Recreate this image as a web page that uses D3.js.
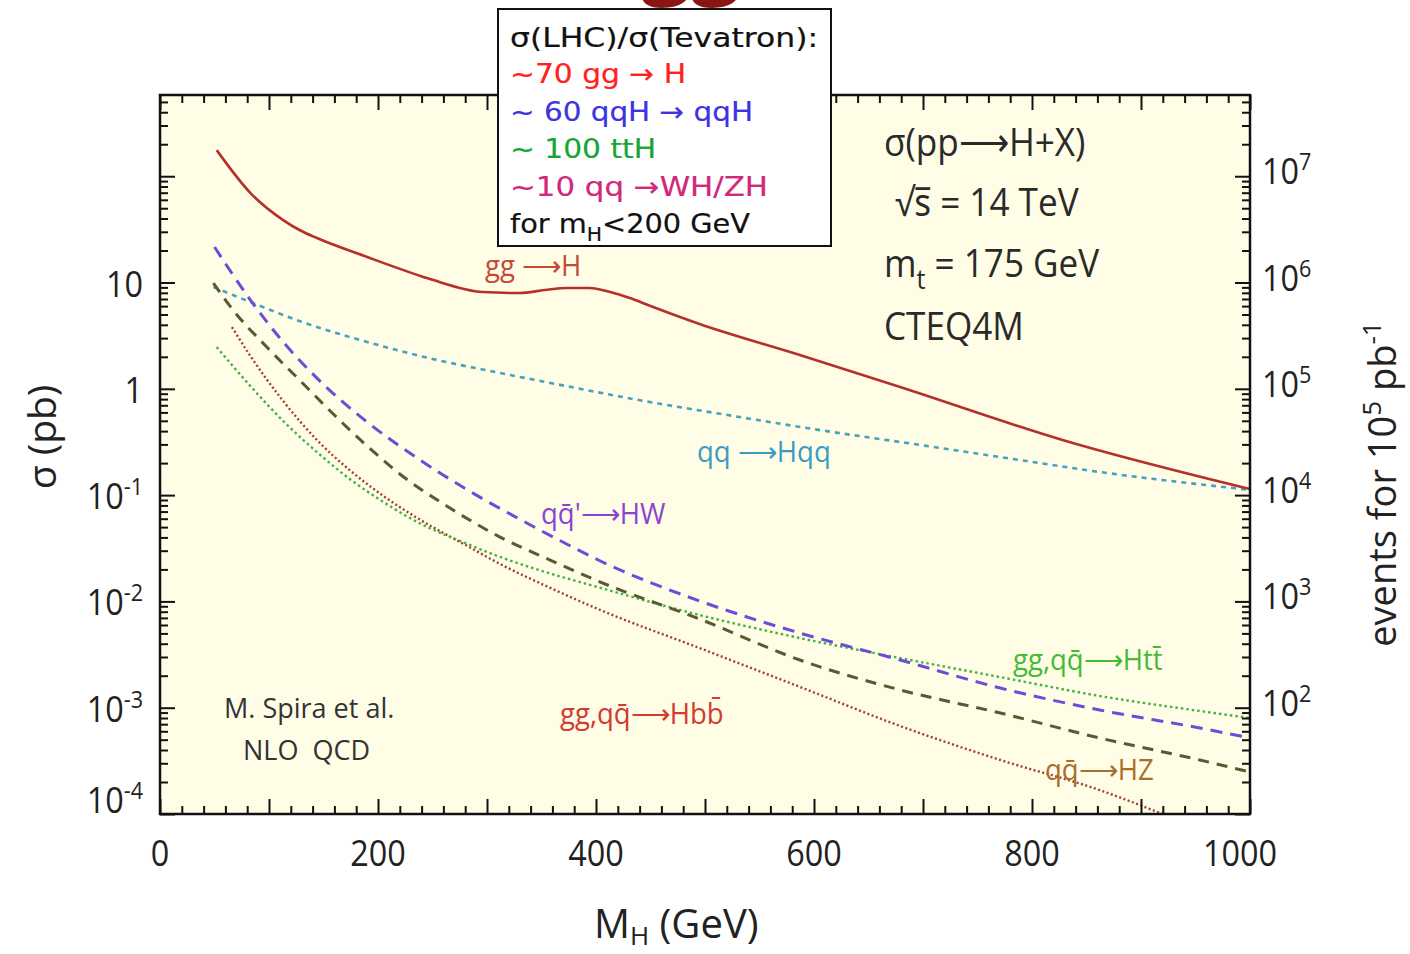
<!DOCTYPE html>
<html>
<head>
<meta charset="utf-8">
<script src="https://cdn.jsdelivr.net/npm/d3@7"></script>
<style>
  body { margin: 0; background: #ffffff; }
  svg { display: block; }
  .tick line { stroke: #111; stroke-width: 2; }
</style>
</head>
<body>
<svg id="chart" width="1410" height="954"></svg>
<script>
// Higgs boson production cross sections, pp -> H + X at sqrt(s) = 14 TeV (NLO QCD)
// Each series: [M_H in GeV, sigma in pb]
const ggH = [[52,176],[83,69.5],[113,38.7],[128,31.2],[144,26.2],[190,17.4],[236,11.8],[250,10.6],
  [296,8.14],[330,7.96],[353,8.5],[373,8.88],[394,8.88],[413,8.14],[431,7.15],[450,6.01],[495,4.07],
  [587,2.08],[679,1.04],[828,0.330],[1000,0.114]];
const qqHqq = [[49,9.07],[83,6.55],[128,4.34],[190,2.76],[250,1.91],[312,1.41],[373,1.06],[434,0.802],
  [526,0.555],[617,0.392],[679,0.316],[771,0.228],[862,0.165],[1000,0.112]];
const qqHW = [[50,21.6],[83,6.84],[113,2.76],[144,1.26],[190,0.487],[236,0.223],[282,0.112],[328,0.0609],
  [373,0.0347],[404,0.0240],[495,0.0101],[587,0.00504],[679,0.00281],[771,0.00153],[862,0.000952],
  [954,0.000644],[1000,0.000519]];
const qqHZ = [[49,9.89],[67,5.51],[98,2.47],[128,1.21],[159,0.579],[190,0.290],[220,0.158],[266,0.0756],
  [312,0.0403],[358,0.0245],[404,0.0152],[495,0.00683],[587,0.00281],[679,0.00147],[771,0.000891],
  [862,0.000519],[954,0.000322],[1000,0.000248]];
const ggHtt = [[52,2.47],[83,1.06],[113,0.498],[144,0.254],[174,0.142],[205,0.0861],[236,0.0558],
  [282,0.0347],[312,0.0262],[342,0.0206],[404,0.0134],[495,0.00745],[587,0.00452],[679,0.00293],
  [771,0.00194],[862,0.00129],[954,0.000931],[1000,0.000800]];
const ggHbb = [[66,3.81],[83,2.03],[113,0.768],[144,0.330],[174,0.172],[205,0.0981],[236,0.0609],
  [282,0.0332],[312,0.0225],[358,0.0134],[404,0.00830],[495,0.00364],[587,0.00157],[679,0.000673],
  [771,0.000322],[862,0.000168],[925,0.000095]];

// Axis ticks
const massMajor = d3.range(0, 1001, 100);
const massMinor = d3.range(0, 1001, 20).filter(v => v % 100 !== 0);
const massLabels = [0, 200, 400, 600, 800, 1000];
const sigmaDecades = [1e-4, 1e-3, 1e-2, 1e-1, 1, 10, 100];
const sigmaLabels = [[1e-4, "10", "-4"], [1e-3, "10", "-3"], [1e-2, "10", "-2"], [1e-1, "10", "-1"], [1, "1", ""], [10, "10", ""]];
const eventLabels = [[1e2, "2"], [1e3, "3"], [1e4, "4"], [1e5, "5"], [1e6, "6"], [1e7, "7"]];
const lumiFactor = 1e5; // events per pb for the right-hand axis

const svg = d3.select("#chart");
const plot = { left: 160, right: 1250, top: 95, bottom: 814 };
const sigmaTop = 581;

const x = d3.scaleLinear().domain([0, 1000]).range([plot.left, plot.right]);
const y = d3.scaleLog().domain([1e-4, sigmaTop]).range([plot.bottom, plot.top]);
const yEvents = d3.scaleLog().domain([1e-4 * lumiFactor, sigmaTop * lumiFactor]).range([plot.bottom, plot.top]);

const minorLog = [];
sigmaDecades.forEach(d => { for (let k = 2; k <= 9; k++) { const v = d * k; if (v < sigmaTop) minorLog.push(v); } });
const minorEvents = minorLog.map(v => v * lumiFactor);
const eventDecades = sigmaDecades.map(v => v * lumiFactor);

const sansFont = "'Open Sans', 'Noto Sans', sans-serif";
const squeeze = 0.9; // narrower letterforms for the figure's own lettering

// Page title (runs off the top edge)
svg.append("text").attr("x", 547).attr("y", -13)
  .attr("font-family", sansFont).attr("font-weight", 700).attr("font-size", 88)
  .attr("fill", "#8b1414").text("Higgs");

// Plot background
svg.append("rect").attr("x", plot.left).attr("y", plot.top)
  .attr("width", plot.right - plot.left).attr("height", plot.bottom - plot.top)
  .attr("fill", "#fffde6");

// Curves
svg.append("clipPath").attr("id", "plotClip").append("rect")
  .attr("x", plot.left).attr("y", plot.top)
  .attr("width", plot.right - plot.left).attr("height", plot.bottom - plot.top);

const line = d3.line().x(d => x(d[0])).y(d => y(d[1])).curve(d3.curveMonotoneX);
const curves = [
  { data: qqHqq, color: "#46a2c2", width: 2.6, dash: "5,5" },
  { data: ggHbb, color: "#a23c36", width: 2.4, dash: "2,2.5" },
  { data: ggHtt, color: "#3fb443", width: 2.4, dash: "2.5,3" },
  { data: qqHZ, color: "#5a5930", width: 3, dash: "11,8" },
  { data: qqHW, color: "#6b4ed8", width: 3, dash: "12,8" },
  { data: ggH, color: "#b5302a", width: 2.6, dash: null }
];
const gCurves = svg.append("g").attr("clip-path", "url(#plotClip)");
curves.forEach(c => {
  gCurves.append("path").datum(c.data)
    .attr("d", line).attr("fill", "none")
    .attr("stroke", c.color).attr("stroke-width", c.width)
    .attr("stroke-dasharray", c.dash);
});

// Axes: ticks point into the frame on all four sides
function ticks(axis, tx, ty) {
  const g = svg.append("g").attr("transform", `translate(${tx},${ty})`).call(axis);
  g.select(".domain").remove();
  g.selectAll("text").remove();
  return g;
}
ticks(d3.axisBottom(x).tickValues(massMajor).tickSize(-15), 0, plot.bottom);
ticks(d3.axisBottom(x).tickValues(massMinor).tickSize(-8), 0, plot.bottom);
ticks(d3.axisTop(x).tickValues(massMajor).tickSize(-15), 0, plot.top);
ticks(d3.axisTop(x).tickValues(massMinor).tickSize(-8), 0, plot.top);
ticks(d3.axisLeft(y).tickValues(sigmaDecades).tickSize(-15), plot.left, 0);
ticks(d3.axisLeft(y).tickValues(minorLog).tickSize(-8), plot.left, 0);
ticks(d3.axisRight(yEvents).tickValues(eventDecades).tickSize(-15), plot.right, 0);
ticks(d3.axisRight(yEvents).tickValues(minorEvents).tickSize(-8), plot.right, 0);

// Frame
svg.append("rect").attr("x", plot.left).attr("y", plot.top)
  .attr("width", plot.right - plot.left).attr("height", plot.bottom - plot.top)
  .attr("fill", "none").attr("stroke", "#111").attr("stroke-width", 2.5);

// Tick labels (the wide end label sits just inside the frame corner)
svg.append("g").selectAll("text").data(massLabels).join("text")
  .attr("transform", d => `translate(${x(d) - (d === 1000 ? 10 : 0)},866) scale(${squeeze},1)`)
  .attr("text-anchor", "middle")
  .attr("font-family", sansFont).attr("font-size", 36).attr("fill", "#222")
  .text(d => d);

const gLeft = svg.append("g").attr("font-family", sansFont).attr("fill", "#222");
sigmaLabels.forEach(([v, base, exp]) => {
  const yy = v === 1e-4 ? y(v) - 1 : y(v) + 14;
  const t = gLeft.append("text")
    .attr("transform", `translate(143,${yy}) scale(${squeeze},1)`)
    .attr("text-anchor", "end").attr("font-size", 36);
  t.append("tspan").text(base);
  if (exp) t.append("tspan").attr("font-size", 24).attr("dy", -14).text(exp);
});

const gRight = svg.append("g").attr("font-family", sansFont).attr("fill", "#222");
eventLabels.forEach(([v, exp]) => {
  const t = gRight.append("text")
    .attr("transform", `translate(1262,${yEvents(v) + 8}) scale(${squeeze},1)`)
    .attr("font-size", 36);
  t.append("tspan").text("10");
  t.append("tspan").attr("font-size", 24).attr("dy", -14).text(exp);
});

// Axis titles
svg.append("text").attr("transform", "translate(56,437) rotate(-90)")
  .attr("text-anchor", "middle").attr("font-family", sansFont).attr("font-size", 39).attr("fill", "#222")
  .text("σ (pb)");

const xt = svg.append("text").attr("x", 594).attr("y", 938)
  .attr("font-family", sansFont).attr("font-size", 40).attr("fill", "#222");
xt.append("tspan").text("M");
xt.append("tspan").attr("font-size", 26).attr("dy", 7).text("H");
xt.append("tspan").attr("dy", -7).text(" (GeV)");

const rt = svg.append("text").attr("transform", "translate(1396,484) rotate(-90)")
  .attr("text-anchor", "middle").attr("font-family", sansFont).attr("font-size", 38).attr("fill", "#222");
rt.append("tspan").text("events for 10");
rt.append("tspan").attr("font-size", 26).attr("dy", -15).text("5");
rt.append("tspan").attr("dy", 15).text(" pb");
rt.append("tspan").attr("font-size", 26).attr("dy", -15).text("-1");

// Process labels
const processLabels = [
  { x: 485, y: 276, color: "#c44a36", text: "gg \u27F6H" },
  { x: 697, y: 462, color: "#3a9cc4", text: "qq \u27F6Hqq" },
  { x: 541, y: 524, color: "#8a44d4", text: "qq\u0304'\u27F6HW" },
  { x: 1013, y: 670, color: "#45bb35", text: "gg,qq\u0304\u27F6Htt\u0304" },
  { x: 560, y: 724, color: "#d33a30", text: "gg,qq\u0304\u27F6Hbb\u0304" },
  { x: 1045, y: 780, color: "#a5702d", text: "qq\u0304\u27F6HZ" }
];
svg.append("g").selectAll("text").data(processLabels).join("text")
  .attr("transform", d => `translate(${d.x},${d.y}) scale(0.95,1)`)
  .attr("font-family", sansFont).attr("font-size", 29)
  .attr("fill", d => d.color).text(d => d.text);

// Credits
const credit = svg.append("g").attr("font-family", sansFont).attr("font-size", 27).attr("fill", "#333");
credit.append("text").attr("x", 224).attr("y", 718).text("M. Spira et al.");
credit.append("text").attr("x", 243).attr("y", 760).attr("xml:space", "preserve").text("NLO  QCD");

// Run conditions
const cond = svg.append("g").attr("font-family", sansFont).attr("font-size", 39).attr("fill", "#2a2a2a");
function condText(px, py) {
  return cond.append("text").attr("transform", `translate(${px},${py}) scale(${squeeze},1)`);
}
condText(884, 156).text("σ(pp\u27F6H+X)");
condText(895, 216).text("\u221As\u0305 = 14 TeV");
const mt = condText(884, 277);
mt.append("tspan").text("m");
mt.append("tspan").attr("font-size", 28).attr("dy", 12).text("t");
mt.append("tspan").attr("dy", -12).text(" = 175 GeV");
condText(884, 340).text("CTEQ4M");

// LHC / Tevatron ratio box
svg.append("rect").attr("x", 498).attr("y", 9).attr("width", 333).attr("height", 237)
  .attr("fill", "#ffffff").attr("stroke", "#111").attr("stroke-width", 2);
const boxFont = "'DejaVu Sans', sans-serif";
const boxLines = [
  { y: 47, color: "#111", len: 308, parts: [["σ(LHC)/σ(Tevatron):"]] },
  { y: 83, color: "#ff2020", len: 176, parts: [["~70 gg \u2192 H"]] },
  { y: 121, color: "#3c34e0", len: 243, parts: [["~ 60 qqH \u2192 qqH"]] },
  { y: 158, color: "#17a535", len: 146, parts: [["~ 100 ttH"]] },
  { y: 196, color: "#d0287a", len: 258, parts: [["~10 qq \u2192WH/ZH"]] },
  { y: 233, color: "#111", len: 240, parts: [["for m"], ["H", "sub"], ["<200 GeV"]] }
];
boxLines.forEach(l => {
  const t = svg.append("text").attr("x", 510).attr("y", l.y)
    .attr("font-family", boxFont).attr("font-size", 27).attr("fill", l.color)
    .attr("stroke", l.color).attr("stroke-width", 0.2)
    .attr("textLength", l.len).attr("lengthAdjust", "spacingAndGlyphs");
  let shifted = false;
  l.parts.forEach(([s, kind]) => {
    const ts = t.append("tspan").text(s);
    if (kind === "sub") { ts.attr("font-size", 19).attr("dy", 8); shifted = true; }
    else if (shifted) { ts.attr("dy", -8); shifted = false; }
  });
});
</script>
</body>
</html>
